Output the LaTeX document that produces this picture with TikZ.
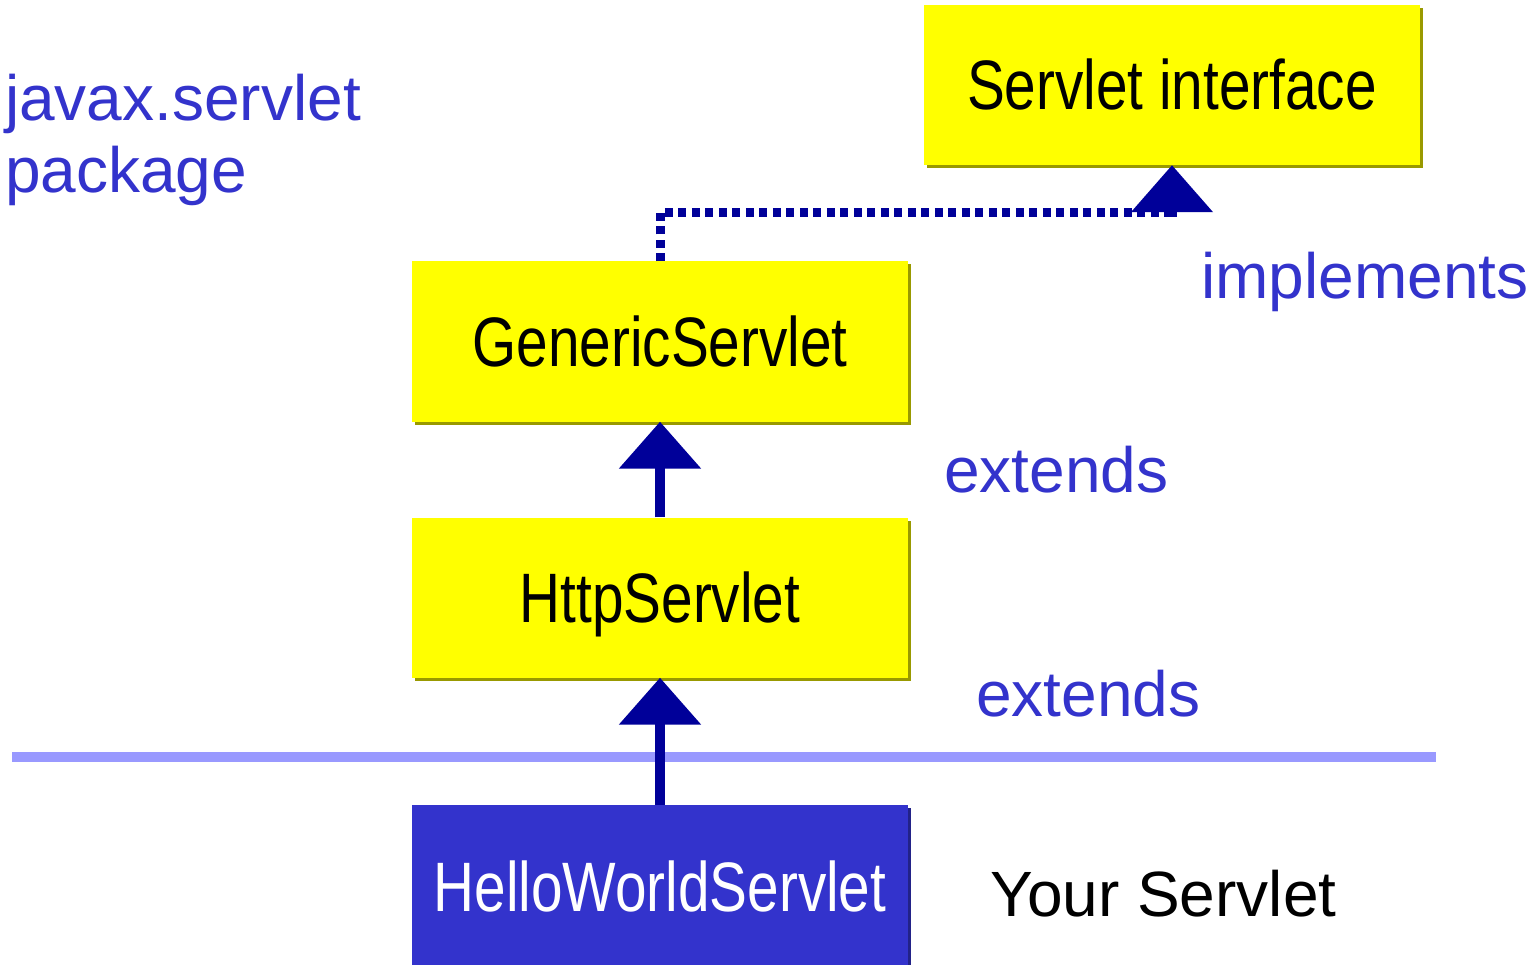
\documentclass[tikz,border=0pt]{standalone}
\usepackage{fontspec}
\setmainfont{Liberation Sans}
\newfontfamily\narrowfont[FakeStretch=0.81]{Liberation Sans}
\usetikzlibrary{arrows.meta,shadows,calc}
\definecolor{boxyellow}{HTML}{FFFF00}
\definecolor{yshadow}{HTML}{999900}
\definecolor{myblue}{HTML}{3333CC}
\definecolor{bshadow}{HTML}{222288}
\definecolor{arrowblue}{HTML}{000099}
\definecolor{sepblue}{HTML}{9999FF}
\begin{document}
\begin{tikzpicture}[x=1pt,y=-1pt,
  classbox/.style={rectangle, inner sep=0pt, minimum width=496pt, minimum height=160pt,
    fill=boxyellow, font=\narrowfont\fontsize{70}{80}\selectfont,
    text height=50pt, text depth=0pt,
    drop shadow={shadow xshift=3pt, shadow yshift=-3pt, fill=yshadow, opacity=1}},
  userbox/.style={classbox, fill=myblue, text=white,
    drop shadow={shadow xshift=3pt, shadow yshift=-3pt, fill=bshadow, opacity=1}},
  lbl/.style={anchor=base west, inner sep=0pt, text=myblue, font=\fontsize{64}{72}\selectfont},
  extarrow/.style={draw=arrowblue, line width=10pt, -{Triangle[width=80pt,length=47pt]}},
  implarrow/.style={draw=arrowblue, line width=9pt, dash pattern=on 8pt off 5.5pt,
    -{Triangle[width=80pt,length=47pt]}},
  sepline/.style={draw=sepblue, line width=10pt}
]
\useasboundingbox (0,0) rectangle (1533,965);
% separator
\coordinate (sepL) at (12,757);
\coordinate (sepR) at (1436,757);
\draw[sepline] (sepL) -- (sepR);
% boxes
\node[classbox] (iface) at (1172,85) {Servlet interface};
\node[classbox] (generic) at (660,341.5) {GenericServlet};
\node[classbox] (http) at (660,597.5) {HttpServlet};
\node[userbox, minimum height=163pt] (hello) at (660,886.5) {HelloWorldServlet};
% connectors
\coordinate (corner) at ($(iface.south)+(0,47)$);
\draw[implarrow] (generic.north) |- (corner) -- (iface.south);
\draw[extarrow] (http.north) -- (generic.south);
\draw[extarrow] (hello.north) -- (http.south);
% labels
\node[lbl, align=left] (pkg) at (5,193) {javax.servlet\\package};
\node[lbl] (impl) at (1201,299) {implements};
\node[lbl] (ext1) at (944,492) {extends};
\node[lbl] (ext2) at (976,716) {extends};
\node[lbl, text=black] (yours) at (990,916) {Your Servlet};
\end{tikzpicture}
\end{document}
